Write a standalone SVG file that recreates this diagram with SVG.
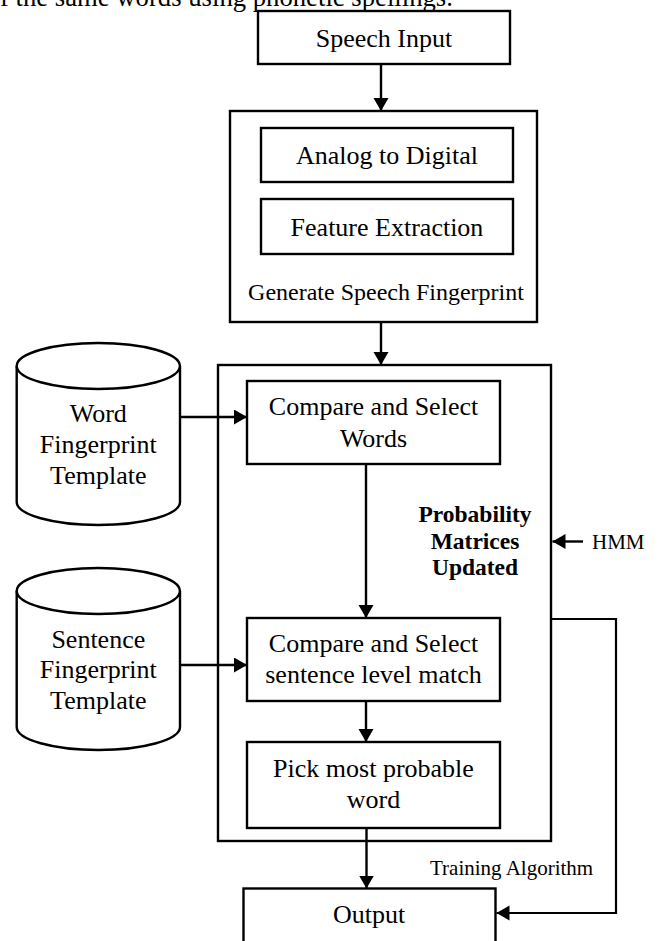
<svg xmlns="http://www.w3.org/2000/svg" width="660" height="941" viewBox="0 0 660 941">
<style>
.box{fill:#fff;stroke:#000;stroke-width:2.4}
.cyl{fill:#fff;stroke:#000;stroke-width:2.4}
.t{font-family:"Liberation Serif","Times New Roman",serif;font-size:26px;fill:#000;text-anchor:middle}
.s{font-family:"Liberation Serif","Times New Roman",serif;font-size:21px;fill:#000}
.b{font-family:"Liberation Serif","Times New Roman",serif;font-size:23.5px;font-weight:bold;fill:#000;text-anchor:middle}
.c{fill:none;stroke:#000;stroke-width:2.4}
.f{fill:none;stroke:#000;stroke-width:2.2}
</style>
<defs>
<marker id="ah" markerUnits="userSpaceOnUse" markerWidth="14" markerHeight="16" refX="13" refY="7.5" orient="auto" viewBox="0 0 14 16">
<path d="M0,0 L13,7.5 L0,15 z" fill="#000"/>
</marker>
</defs>
<rect width="660" height="941" fill="#fff"/>
<text x="0" y="6" class="s" style="font-size:26.7px">f the same words using phonetic spellings.</text>

<g id="speech-input">
<rect class="box" x="258" y="11" width="252" height="53"/>
<text class="t" x="384" y="47">Speech Input</text>
</g>

<g id="generate-fingerprint">
<rect class="box" x="230" y="111" width="307" height="211"/>
<text class="t" x="386" y="300" style="font-size:24px">Generate Speech Fingerprint</text>
</g>
<g id="analog-digital">
<rect class="box" x="261" y="128" width="252" height="54"/>
<text class="t" x="387" y="164">Analog to Digital</text>
</g>
<g id="feature-extraction">
<rect class="box" x="261" y="199" width="252" height="55"/>
<text class="t" x="387" y="236">Feature Extraction</text>
</g>

<g id="probability-matrices">
<rect class="box" x="218" y="365" width="333" height="476"/>
<text class="b" x="475" y="522">Probability</text>
<text class="b" x="475" y="549">Matrices</text>
<text class="b" x="475" y="575">Updated</text>
</g>

<g id="compare-words">
<rect class="box" x="247" y="381" width="253" height="83"/>
<text class="t" x="373.5" y="415">Compare and Select</text>
<text class="t" x="373.5" y="447">Words</text>
</g>

<g id="compare-sentence">
<rect class="box" x="247" y="618" width="253" height="83"/>
<text class="t" x="373.5" y="652">Compare and Select</text>
<text class="t" x="373.5" y="683">sentence level match</text>
</g>

<g id="pick-word">
<rect class="box" x="247" y="742" width="253" height="86"/>
<text class="t" x="373.5" y="777">Pick most probable</text>
<text class="t" x="373.5" y="808">word</text>
</g>

<g id="output">
<rect class="box" x="243.5" y="888.5" width="252" height="60"/>
<text class="t" x="369" y="923">Output</text>
</g>

<g id="word-template">
<path class="cyl" d="M16.7,366 L16.7,502 A81.6,23 0 0 0 180,502 L180,366"/>
<ellipse class="cyl" cx="98.3" cy="366" rx="81.6" ry="23"/>
<text class="t" x="98.3" y="422">Word</text>
<text class="t" x="98.3" y="453">Fingerprint</text>
<text class="t" x="98.3" y="484">Template</text>
</g>

<g id="sentence-template">
<path class="cyl" d="M16.7,591 L16.7,727 A81.6,23 0 0 0 180,727 L180,591"/>
<ellipse class="cyl" cx="98.3" cy="591" rx="81.6" ry="23"/>
<text class="t" x="98.3" y="648">Sentence</text>
<text class="t" x="98.3" y="678">Fingerprint</text>
<text class="t" x="98.3" y="709">Template</text>
</g>

<g id="labels">
<text class="s" x="592" y="549">HMM</text>
<text class="s" x="430" y="875">Training Algorithm</text>
</g>

<g id="connectors">
<line class="c" x1="381" y1="64" x2="381" y2="111" marker-end="url(#ah)"/>
<line class="c" x1="381" y1="322" x2="381" y2="365" marker-end="url(#ah)"/>
<line class="c" x1="180" y1="417" x2="247" y2="417" marker-end="url(#ah)"/>
<line class="c" x1="180" y1="665" x2="247" y2="665" marker-end="url(#ah)"/>
<line class="c" x1="366" y1="464" x2="366" y2="618" marker-end="url(#ah)"/>
<line class="c" x1="366" y1="701" x2="366" y2="742" marker-end="url(#ah)"/>
<line class="c" x1="366.5" y1="828" x2="366.5" y2="888.5" marker-end="url(#ah)"/>
<line class="c" x1="583" y1="541.5" x2="552.5" y2="541.5" marker-end="url(#ah)"/>
<polyline class="f" points="551,619 616,619 616,913 496.5,913" marker-end="url(#ah)"/>
</g>
</svg>
